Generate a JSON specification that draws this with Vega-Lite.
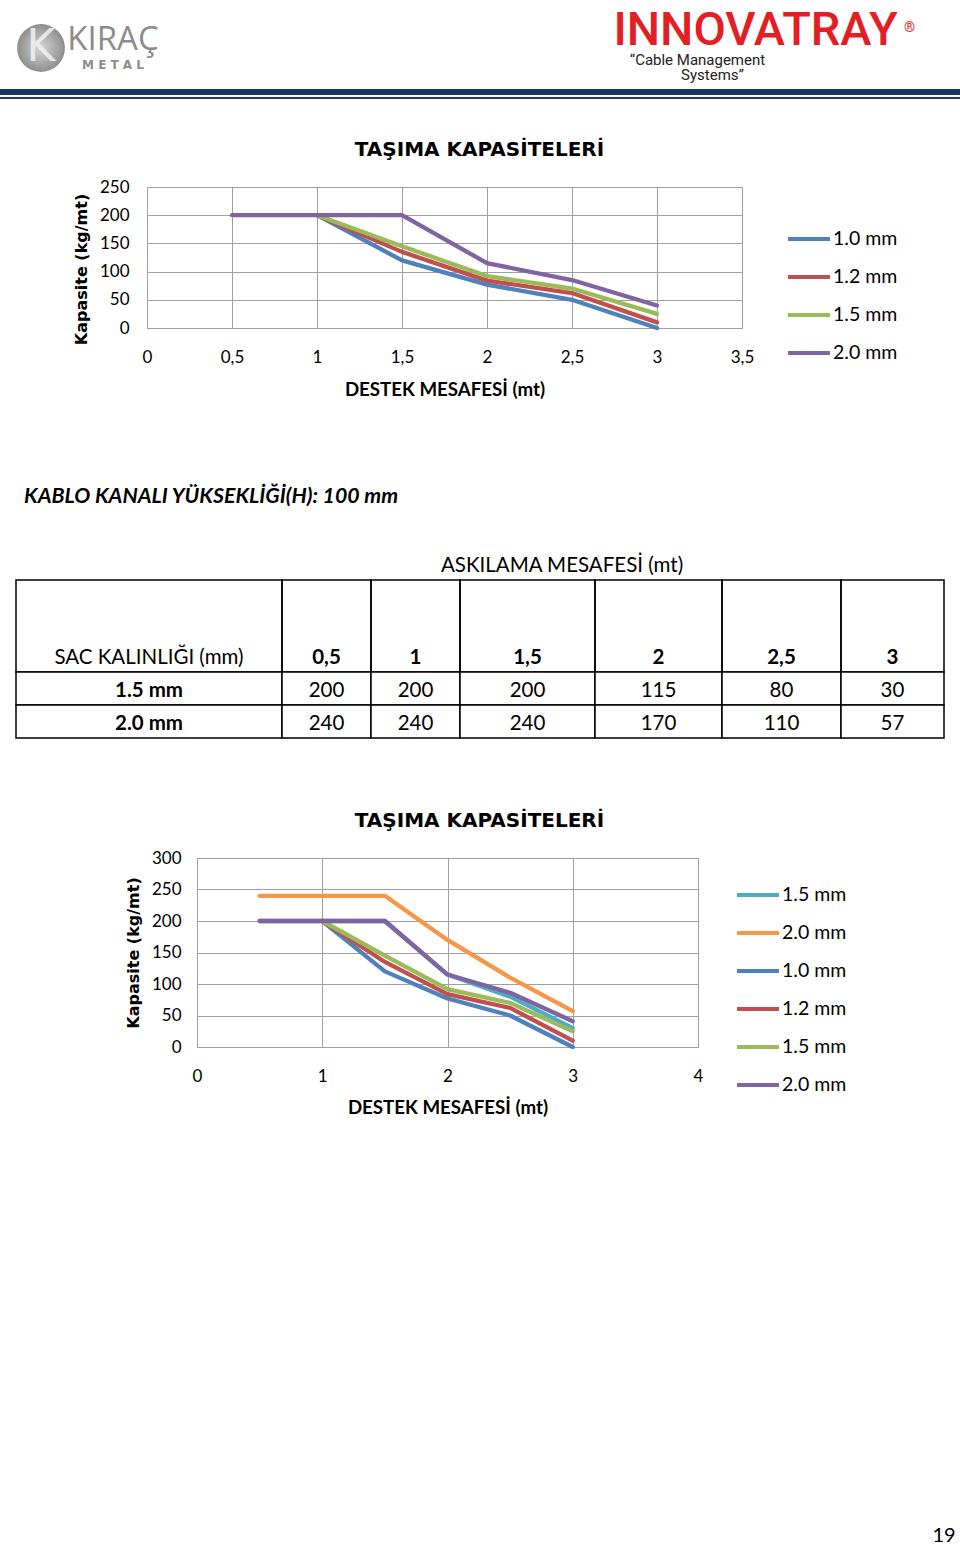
{
  "$schema": "https://vega.github.io/schema/vega-lite/v6.json",
  "background": "white",
  "padding": 0,
  "spacing": 0,
  "bounds": "flush",
  "resolve": {"scale": {"color": "independent"}, "legend": {"color": "independent"}},
  "config": {"view": {"stroke": null}, "font": "Lato"},
  "datasets": {
    "c1": [
      {"s": "1.0 mm", "x": 1, "y": 200}, {"s": "1.0 mm", "x": 1.5, "y": 120}, {"s": "1.0 mm", "x": 2, "y": 77}, {"s": "1.0 mm", "x": 2.5, "y": 50}, {"s": "1.0 mm", "x": 3, "y": 0},
      {"s": "1.2 mm", "x": 1, "y": 200}, {"s": "1.2 mm", "x": 1.5, "y": 135}, {"s": "1.2 mm", "x": 2, "y": 84}, {"s": "1.2 mm", "x": 2.5, "y": 62}, {"s": "1.2 mm", "x": 3, "y": 10},
      {"s": "1.5 mm", "x": 1, "y": 200}, {"s": "1.5 mm", "x": 1.5, "y": 145}, {"s": "1.5 mm", "x": 2, "y": 92}, {"s": "1.5 mm", "x": 2.5, "y": 70}, {"s": "1.5 mm", "x": 3, "y": 25},
      {"s": "2.0 mm", "x": 0.5, "y": 200}, {"s": "2.0 mm", "x": 1, "y": 200}, {"s": "2.0 mm", "x": 1.5, "y": 200}, {"s": "2.0 mm", "x": 2, "y": 115}, {"s": "2.0 mm", "x": 2.5, "y": 85}, {"s": "2.0 mm", "x": 3, "y": 40}
    ],
    "c2": [
      {"s": "1|1.5 mm", "x": 0.5, "y": 200}, {"s": "1|1.5 mm", "x": 1, "y": 200}, {"s": "1|1.5 mm", "x": 1.5, "y": 200}, {"s": "1|1.5 mm", "x": 2, "y": 115}, {"s": "1|1.5 mm", "x": 2.5, "y": 80}, {"s": "1|1.5 mm", "x": 3, "y": 30},
      {"s": "2|2.0 mm", "x": 0.5, "y": 240}, {"s": "2|2.0 mm", "x": 1, "y": 240}, {"s": "2|2.0 mm", "x": 1.5, "y": 240}, {"s": "2|2.0 mm", "x": 2, "y": 170}, {"s": "2|2.0 mm", "x": 2.5, "y": 110}, {"s": "2|2.0 mm", "x": 3, "y": 57},
      {"s": "3|1.0 mm", "x": 1, "y": 200}, {"s": "3|1.0 mm", "x": 1.5, "y": 120}, {"s": "3|1.0 mm", "x": 2, "y": 77}, {"s": "3|1.0 mm", "x": 2.5, "y": 50}, {"s": "3|1.0 mm", "x": 3, "y": 0},
      {"s": "4|1.2 mm", "x": 1, "y": 200}, {"s": "4|1.2 mm", "x": 1.5, "y": 135}, {"s": "4|1.2 mm", "x": 2, "y": 84}, {"s": "4|1.2 mm", "x": 2.5, "y": 62}, {"s": "4|1.2 mm", "x": 3, "y": 10},
      {"s": "5|1.5 mm", "x": 1, "y": 200}, {"s": "5|1.5 mm", "x": 1.5, "y": 145}, {"s": "5|1.5 mm", "x": 2, "y": 92}, {"s": "5|1.5 mm", "x": 2.5, "y": 70}, {"s": "5|1.5 mm", "x": 3, "y": 25},
      {"s": "6|2.0 mm", "x": 0.5, "y": 200}, {"s": "6|2.0 mm", "x": 1, "y": 200}, {"s": "6|2.0 mm", "x": 1.5, "y": 200}, {"s": "6|2.0 mm", "x": 2, "y": 115}, {"s": "6|2.0 mm", "x": 2.5, "y": 86}, {"s": "6|2.0 mm", "x": 3, "y": 41}
    ],
    "tbl": [
      {"t": "1.5 mm", "d": "0,5", "v": 200}, {"t": "1.5 mm", "d": "1", "v": 200}, {"t": "1.5 mm", "d": "1,5", "v": 200}, {"t": "1.5 mm", "d": "2", "v": 115}, {"t": "1.5 mm", "d": "2,5", "v": 80}, {"t": "1.5 mm", "d": "3", "v": 30},
      {"t": "2.0 mm", "d": "0,5", "v": 240}, {"t": "2.0 mm", "d": "1", "v": 240}, {"t": "2.0 mm", "d": "1,5", "v": 240}, {"t": "2.0 mm", "d": "2", "v": 170}, {"t": "2.0 mm", "d": "2,5", "v": 110}, {"t": "2.0 mm", "d": "3", "v": 57}
    ],
    "hdr": [{"h": "SAC KALINLIĞI (mm)"}, {"h": "0,5"}, {"h": "1"}, {"h": "1,5"}, {"h": "2"}, {"h": "2,5"}, {"h": "3"}],
    "none": []
  },
  "vconcat": [
    {
      "spacing": 0, "bounds": "flush",
      "hconcat": [
        {"width": 14, "height": 89, "data": {"name": "none"}, "mark": "rule", "encoding": {}},
        {"width": 54, "height": 96, "data": {"values": [{"t": "K"}]},
         "layer": [
           {"mark": {"type": "point", "shape": "circle", "filled": true, "size": 2290, "opacity": 1, "fill": {"gradient": "radial", "stops": [{"offset": 0, "color": "#d6d6d6"}, {"offset": 1, "color": "#8e8e8e"}]}}, "encoding": {}},
           {"mark": {"type": "text", "font": "DejaVu Sans", "fontSize": 44, "color": "#f2f2f2", "opacity": 0.85}, "encoding": {"text": {"field": "t"}}}
         ]},
        {"width": 90, "height": 89, "data": {"values": [{"a": "KIRAÇ", "b": "M E T A L"}]},
         "layer": [
           {"mark": {"type": "text", "font": "Open Sans", "fontSize": 33, "color": "#8c8c8c", "dy": -5}, "encoding": {"text": {"field": "a"}}},
           {"mark": {"type": "text", "font": "DejaVu Sans", "fontWeight": "bold", "fontSize": 12, "color": "#8c8c8c", "dy": 20}, "encoding": {"text": {"field": "b"}}}
         ]},
        {"width": 452, "height": 89, "data": {"name": "none"}, "mark": "rule", "encoding": {}},
        {"width": 305, "height": 89, "data": {"values": [{"a": "INNOVATRAY", "r": "®", "c": "“Cable Management", "s": "Systems”"}]},
         "layer": [
           {"mark": {"type": "text", "font": "Roboto", "fontWeight": 500, "fontSize": 47, "color": "#e31e24", "dx": -7, "dy": -14}, "encoding": {"text": {"field": "a"}}},
           {"mark": {"type": "text", "font": "Roboto", "fontSize": 14, "color": "#e31e24", "dx": 147, "dy": -17}, "encoding": {"text": {"field": "r"}}},
           {"mark": {"type": "text", "font": "Roboto", "fontSize": 15, "color": "#222222", "dx": -65, "dy": 15}, "encoding": {"text": {"field": "c"}}},
           {"mark": {"type": "text", "font": "Roboto", "fontSize": 15, "color": "#222222", "dx": -50, "dy": 30}, "encoding": {"text": {"field": "s"}}}
         ]}
      ]
    },
    {"width": 960, "height": 89, "data": {"name": "none"}, "mark": "rule", "encoding": {}},
    {"width": 960, "height": 6, "data": {"name": "none"}, "mark": "rule", "encoding": {}, "view": {"fill": "#17375e", "stroke": null}},
    {"width": 960, "height": 2, "data": {"name": "none"}, "mark": "rule", "encoding": {}},
    {"width": 960, "height": 2, "data": {"name": "none"}, "mark": "rule", "encoding": {}, "view": {"fill": "#1f3b66", "stroke": null}},
    {"width": 960, "height": 88, "data": {"name": "none"}, "mark": "rule", "encoding": {}},
    {
      "spacing": 0, "bounds": "flush",
      "resolve": {"scale": {"color": "independent"}, "legend": {"color": "independent"}},
      "hconcat": [
        {"width": 147, "height": 141, "data": {"name": "none"}, "mark": "rule", "encoding": {}},
        {
          "width": 595, "height": 141,
          "data": {"name": "c1"},
          "view": {"stroke": "#a0a0a0", "strokeWidth": 1},
          "title": {"text": "TAŞIMA KAPASİTELERİ", "frame": "group", "anchor": "middle", "dx": 35, "offset": 18, "font": "DejaVu Sans", "fontSize": 20, "fontWeight": "bold", "color": "#000000"},
          "mark": {"type": "line", "strokeWidth": 4.3, "strokeJoin": "round", "strokeCap": "round"},
          "encoding": {
            "x": {"field": "x", "type": "quantitative", "scale": {"domain": [0, 3.5], "nice": false, "zero": false},
                  "axis": {"values": [0, 0.5, 1, 1.5, 2, 2.5, 3, 3.5], "labelExpr": "replace(format(datum.value, '.1~f'), '.', ',')", "grid": true, "gridColor": "#a0a0a0", "gridWidth": 1, "ticks": false, "domain": false, "labelFlush": false, "labelOverlap": false, "labelFont": "Lato", "labelFontSize": 17, "labelColor": "#000000", "labelPadding": 21, "title": "DESTEK MESAFESİ (mt)", "titleFont": "Lato", "titleFontSize": 18.7, "titleFontWeight": "bold", "titleColor": "#000000", "titlePadding": 15}},
            "y": {"field": "y", "type": "quantitative", "scale": {"domain": [0, 250], "nice": false},
                  "axis": {"values": [0, 50, 100, 150, 200, 250], "grid": true, "gridColor": "#a0a0a0", "gridWidth": 1, "ticks": false, "domain": false, "labelFlush": false, "labelOverlap": false, "labelFont": "Lato", "labelFontSize": 17, "labelColor": "#000000", "labelPadding": 18, "title": "Kapasite (kg/mt)", "titleFont": "DejaVu Sans", "titleFontSize": 16, "titleFontWeight": "bold", "titleColor": "#000000", "titlePadding": 10, "titleY": 82}},
            "color": {"field": "s", "type": "nominal", "scale": {"domain": ["1.0 mm", "1.2 mm", "1.5 mm", "2.0 mm"], "range": ["#4f81bd", "#c0504d", "#9bbb59", "#8064a2"]},
                      "legend": {"title": null, "orient": "right", "offset": 15, "padding": 29, "symbolType": "stroke", "symbolSize": 1764, "symbolStrokeWidth": 4, "labelFont": "Lato", "labelFontSize": 19.5, "labelColor": "#000000", "labelOffset": 1, "rowPadding": 5, "labelLimit": 200}}
          }
        }
      ]
    },
    {"width": 960, "height": 298, "data": {"name": "none"}, "mark": "rule", "encoding": {}},
    {
      "spacing": 0, "bounds": "flush",
      "hconcat": [
        {"width": 23, "height": 24, "data": {"name": "none"}, "mark": "rule", "encoding": {}},
        {"width": 2, "height": 24, "data": {"values": [{"t": "KABLO KANALI YÜKSEKLİĞİ(H): 100 mm"}]},
         "mark": {"type": "text", "align": "left", "font": "Lato", "fontSize": 21.3, "fontWeight": "bold", "fontStyle": "italic", "color": "#000000"},
         "encoding": {"text": {"field": "t"}}}
      ]
    },
    {"width": 960, "height": 69, "data": {"name": "none"}, "mark": "rule", "encoding": {}},
    {
      "spacing": 0, "bounds": "flush",
      "hconcat": [
        {"width": 561, "height": 24, "data": {"name": "none"}, "mark": "rule", "encoding": {}},
        {"width": 2, "height": 24, "data": {"values": [{"t": "ASKILAMA MESAFESİ (mt)"}]},
         "mark": {"type": "text", "font": "Lato", "fontSize": 20.5, "color": "#000000"},
         "encoding": {"text": {"field": "t"}}}
      ]
    },
    {"width": 960, "height": 26, "data": {"name": "none"}, "mark": "rule", "encoding": {}},
    {
      "spacing": 0, "bounds": "flush",
      "hconcat": [
        {"width": 16, "height": 92, "data": {"name": "none"}, "mark": "rule", "encoding": {}},
        {"width": 266, "height": 92, "data": {"name": "hdr"}, "transform": [{"filter": "datum.h == 'SAC KALINLIĞI (mm)'"}], "view": {"stroke": "#000000", "strokeWidth": 1.5},
         "mark": {"type": "text", "font": "Lato", "fontSize": 20.5, "color": "#000000", "dy": 32}, "encoding": {"text": {"field": "h"}}},
        {"width": 89, "height": 92, "data": {"name": "hdr"}, "transform": [{"filter": "datum.h == '0,5'"}], "view": {"stroke": "#000000", "strokeWidth": 1.5},
         "mark": {"type": "text", "font": "Lato", "fontSize": 20.5, "fontWeight": "bold", "color": "#000000", "dy": 32}, "encoding": {"text": {"field": "h"}}},
        {"width": 89, "height": 92, "data": {"name": "hdr"}, "transform": [{"filter": "datum.h == '1'"}], "view": {"stroke": "#000000", "strokeWidth": 1.5},
         "mark": {"type": "text", "font": "Lato", "fontSize": 20.5, "fontWeight": "bold", "color": "#000000", "dy": 32}, "encoding": {"text": {"field": "h"}}},
        {"width": 135, "height": 92, "data": {"name": "hdr"}, "transform": [{"filter": "datum.h == '1,5'"}], "view": {"stroke": "#000000", "strokeWidth": 1.5},
         "mark": {"type": "text", "font": "Lato", "fontSize": 20.5, "fontWeight": "bold", "color": "#000000", "dy": 32}, "encoding": {"text": {"field": "h"}}},
        {"width": 127, "height": 92, "data": {"name": "hdr"}, "transform": [{"filter": "datum.h == '2'"}], "view": {"stroke": "#000000", "strokeWidth": 1.5},
         "mark": {"type": "text", "font": "Lato", "fontSize": 20.5, "fontWeight": "bold", "color": "#000000", "dy": 32}, "encoding": {"text": {"field": "h"}}},
        {"width": 119, "height": 92, "data": {"name": "hdr"}, "transform": [{"filter": "datum.h == '2,5'"}], "view": {"stroke": "#000000", "strokeWidth": 1.5},
         "mark": {"type": "text", "font": "Lato", "fontSize": 20.5, "fontWeight": "bold", "color": "#000000", "dy": 32}, "encoding": {"text": {"field": "h"}}},
        {"width": 103, "height": 92, "data": {"name": "hdr"}, "transform": [{"filter": "datum.h == '3'"}], "view": {"stroke": "#000000", "strokeWidth": 1.5},
         "mark": {"type": "text", "font": "Lato", "fontSize": 20.5, "fontWeight": "bold", "color": "#000000", "dy": 32}, "encoding": {"text": {"field": "h"}}}
      ]
    },
    {"width": 960, "height": 92, "data": {"name": "none"}, "mark": "rule", "encoding": {}},
    {
      "spacing": 0, "bounds": "flush",
      "hconcat": [
        {"width": 16, "height": 66, "data": {"name": "none"}, "mark": "rule", "encoding": {}},
        {"width": 266, "height": 66, "data": {"name": "tbl"}, "transform": [{"filter": "datum.d == '0,5'"}],
         "encoding": {"y": {"field": "t", "type": "nominal", "axis": null, "scale": {"paddingInner": 0, "paddingOuter": 0}}},
         "layer": [
           {"mark": {"type": "rect", "fill": "#ffffff", "stroke": "#000000", "strokeWidth": 1.5}},
           {"mark": {"type": "text", "font": "Lato", "fontSize": 20.5, "fontWeight": "bold", "color": "#000000", "dy": 2}, "encoding": {"text": {"field": "t"}}}
         ]},
        {"width": 89, "height": 66, "data": {"name": "tbl"}, "transform": [{"filter": "datum.d == '0,5'"}],
         "encoding": {"y": {"field": "t", "type": "nominal", "axis": null, "scale": {"paddingInner": 0, "paddingOuter": 0}}},
         "layer": [
           {"mark": {"type": "rect", "fill": "#ffffff", "stroke": "#000000", "strokeWidth": 1.5}},
           {"mark": {"type": "text", "font": "Lato", "fontSize": 20.5, "color": "#000000", "dy": 2}, "encoding": {"text": {"field": "v"}}}
         ]},
        {"width": 89, "height": 66, "data": {"name": "tbl"}, "transform": [{"filter": "datum.d == '1'"}],
         "encoding": {"y": {"field": "t", "type": "nominal", "axis": null, "scale": {"paddingInner": 0, "paddingOuter": 0}}},
         "layer": [
           {"mark": {"type": "rect", "fill": "#ffffff", "stroke": "#000000", "strokeWidth": 1.5}},
           {"mark": {"type": "text", "font": "Lato", "fontSize": 20.5, "color": "#000000", "dy": 2}, "encoding": {"text": {"field": "v"}}}
         ]},
        {"width": 135, "height": 66, "data": {"name": "tbl"}, "transform": [{"filter": "datum.d == '1,5'"}],
         "encoding": {"y": {"field": "t", "type": "nominal", "axis": null, "scale": {"paddingInner": 0, "paddingOuter": 0}}},
         "layer": [
           {"mark": {"type": "rect", "fill": "#ffffff", "stroke": "#000000", "strokeWidth": 1.5}},
           {"mark": {"type": "text", "font": "Lato", "fontSize": 20.5, "color": "#000000", "dy": 2}, "encoding": {"text": {"field": "v"}}}
         ]},
        {"width": 127, "height": 66, "data": {"name": "tbl"}, "transform": [{"filter": "datum.d == '2'"}],
         "encoding": {"y": {"field": "t", "type": "nominal", "axis": null, "scale": {"paddingInner": 0, "paddingOuter": 0}}},
         "layer": [
           {"mark": {"type": "rect", "fill": "#ffffff", "stroke": "#000000", "strokeWidth": 1.5}},
           {"mark": {"type": "text", "font": "Lato", "fontSize": 20.5, "color": "#000000", "dy": 2}, "encoding": {"text": {"field": "v"}}}
         ]},
        {"width": 119, "height": 66, "data": {"name": "tbl"}, "transform": [{"filter": "datum.d == '2,5'"}],
         "encoding": {"y": {"field": "t", "type": "nominal", "axis": null, "scale": {"paddingInner": 0, "paddingOuter": 0}}},
         "layer": [
           {"mark": {"type": "rect", "fill": "#ffffff", "stroke": "#000000", "strokeWidth": 1.5}},
           {"mark": {"type": "text", "font": "Lato", "fontSize": 20.5, "color": "#000000", "dy": 2}, "encoding": {"text": {"field": "v"}}}
         ]},
        {"width": 103, "height": 66, "data": {"name": "tbl"}, "transform": [{"filter": "datum.d == '3'"}],
         "encoding": {"y": {"field": "t", "type": "nominal", "axis": null, "scale": {"paddingInner": 0, "paddingOuter": 0}}},
         "layer": [
           {"mark": {"type": "rect", "fill": "#ffffff", "stroke": "#000000", "strokeWidth": 1.5}},
           {"mark": {"type": "text", "font": "Lato", "fontSize": 20.5, "color": "#000000", "dy": 2}, "encoding": {"text": {"field": "v"}}}
         ]}
      ]
    },
    {"width": 960, "height": 186, "data": {"name": "none"}, "mark": "rule", "encoding": {}},
    {
      "spacing": 0, "bounds": "flush",
      "resolve": {"scale": {"color": "independent"}, "legend": {"color": "independent"}},
      "hconcat": [
        {"width": 197, "height": 189, "data": {"name": "none"}, "mark": "rule", "encoding": {}},
        {
          "width": 501, "height": 189,
          "data": {"name": "c2"},
          "view": {"stroke": "#a0a0a0", "strokeWidth": 1},
          "title": {"text": "TAŞIMA KAPASİTELERİ", "frame": "group", "anchor": "middle", "dx": 32, "offset": 18, "font": "DejaVu Sans", "fontSize": 20, "fontWeight": "bold", "color": "#000000"},
          "mark": {"type": "line", "strokeWidth": 4.3, "strokeJoin": "round", "strokeCap": "round"},
          "encoding": {
            "x": {"field": "x", "type": "quantitative", "scale": {"domain": [0, 4], "nice": false, "zero": false},
                  "axis": {"values": [0, 1, 2, 3, 4], "grid": true, "gridColor": "#a0a0a0", "gridWidth": 1, "ticks": false, "domain": false, "labelFlush": false, "labelOverlap": false, "labelFont": "Lato", "labelFontSize": 17, "labelColor": "#000000", "labelPadding": 21, "title": "DESTEK MESAFESİ (mt)", "titleFont": "Lato", "titleFontSize": 18.7, "titleFontWeight": "bold", "titleColor": "#000000", "titlePadding": 14}},
            "y": {"field": "y", "type": "quantitative", "scale": {"domain": [0, 300], "nice": false},
                  "axis": {"values": [0, 50, 100, 150, 200, 250, 300], "grid": true, "gridColor": "#a0a0a0", "gridWidth": 1, "ticks": false, "domain": false, "labelFlush": false, "labelOverlap": false, "labelFont": "Lato", "labelFontSize": 17, "labelColor": "#000000", "labelPadding": 16, "title": "Kapasite (kg/mt)", "titleFont": "DejaVu Sans", "titleFontSize": 16, "titleFontWeight": "bold", "titleColor": "#000000", "titlePadding": 10}},
            "color": {"field": "s", "type": "nominal", "scale": {"domain": ["1|1.5 mm", "2|2.0 mm", "3|1.0 mm", "4|1.2 mm", "5|1.5 mm", "6|2.0 mm"], "range": ["#4bacc6", "#f79646", "#4f81bd", "#c0504d", "#9bbb59", "#8064a2"]},
                      "legend": {"title": null, "orient": "right", "offset": 23, "padding": 14, "symbolType": "stroke", "symbolSize": 1764, "symbolStrokeWidth": 4, "labelFont": "Lato", "labelFontSize": 19.5, "labelColor": "#000000", "labelOffset": 1, "rowPadding": 5, "labelLimit": 200, "labelExpr": "split(datum.label, '|')[1]"}}
          }
        }
      ]
    },
    {"width": 960, "height": 666, "data": {"name": "none"}, "mark": "rule", "encoding": {}},
    {
      "spacing": 0, "bounds": "flush",
      "hconcat": [
        {"width": 943, "height": 24, "data": {"name": "none"}, "mark": "rule", "encoding": {}},
        {"width": 2, "height": 24, "data": {"values": [{"t": "19"}]},
         "mark": {"type": "text", "font": "Lato", "fontSize": 20, "color": "#000000"},
         "encoding": {"text": {"field": "t"}}}
      ]
    }
  ]
}
